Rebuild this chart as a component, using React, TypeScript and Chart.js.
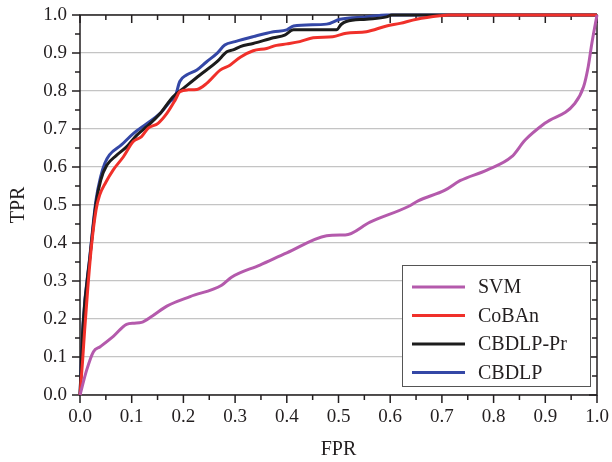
import React, { useEffect, useRef } from 'react';
import { Chart, registerables } from 'chart.js';

Chart.register(...registerables);

// ---- data ----
const seriesNames = ['SVM', 'CoBAn', 'CBDLP-Pr', 'CBDLP'];

const svmFpr = [0, 0.013, 0.026, 0.039, 0.065, 0.09, 0.105, 0.119, 0.14, 0.168, 0.213, 0.274, 0.293, 0.348, 0.4, 0.477, 0.503, 0.513, 0.561, 0.635, 0.654, 0.706, 0.735, 0.787, 0.835, 0.861, 0.899, 0.957, 0.974, 0.983, 0.99, 1.0];
const svmTpr = [0, 0.066, 0.114, 0.127, 0.155, 0.186, 0.189, 0.191, 0.208, 0.234, 0.259, 0.289, 0.31, 0.342, 0.374, 0.419, 0.421, 0.421, 0.455, 0.496, 0.511, 0.539, 0.564, 0.592, 0.627, 0.671, 0.715, 0.767, 0.811, 0.864, 0.925, 1.0];

const cobanFpr = [0, 0.005, 0.009, 0.015, 0.022, 0.031, 0.038, 0.05, 0.064, 0.084, 0.103, 0.119, 0.132, 0.151, 0.168, 0.184, 0.193, 0.209, 0.226, 0.245, 0.271, 0.29, 0.31, 0.335, 0.361, 0.38, 0.4, 0.425, 0.451, 0.489, 0.515, 0.554, 0.593, 0.619, 0.651, 0.696, 0.715, 1.0];
const cobanTpr = [0, 0.09, 0.171, 0.28, 0.39, 0.487, 0.526, 0.56, 0.592, 0.627, 0.667, 0.68, 0.702, 0.715, 0.741, 0.776, 0.798, 0.803, 0.804, 0.82, 0.855, 0.868, 0.889, 0.906, 0.912, 0.92, 0.924, 0.93, 0.94, 0.943, 0.952, 0.956, 0.971, 0.978, 0.989, 0.998, 1.0, 1.0];

const prFpr = [0, 0.006, 0.019, 0.031, 0.04, 0.052, 0.07, 0.09, 0.11, 0.129, 0.155, 0.18, 0.2, 0.232, 0.265, 0.284, 0.296, 0.31, 0.335, 0.374, 0.396, 0.413, 0.496, 0.505, 0.515, 0.554, 0.593, 0.603, 1.0];
const prTpr = [0, 0.185, 0.36, 0.505, 0.565, 0.605, 0.63, 0.653, 0.684, 0.706, 0.741, 0.785, 0.807, 0.842, 0.877, 0.903, 0.908, 0.917, 0.925, 0.94, 0.947, 0.961, 0.961, 0.975, 0.983, 0.989, 0.995, 1.0, 1.0];

const cbdlpFpr = [0, 0.006, 0.019, 0.031, 0.04, 0.048, 0.057, 0.08, 0.103, 0.129, 0.155, 0.174, 0.184, 0.193, 0.206, 0.226, 0.245, 0.265, 0.28, 0.3, 0.335, 0.374, 0.4, 0.413, 0.477, 0.503, 0.554, 0.593, 1.0];
const cbdlpTpr = [0, 0.189, 0.364, 0.513, 0.575, 0.61, 0.632, 0.658, 0.688, 0.714, 0.741, 0.772, 0.785, 0.825, 0.842, 0.855, 0.877, 0.899, 0.921, 0.93, 0.943, 0.956, 0.961, 0.971, 0.976, 0.989, 0.995, 1.0, 1.0];

const seriesColors = ['#b45aac', '#f0302a', '#1c1c1c', '#3447a6'];

const SERIF = '"Liberation Serif", "Times New Roman", serif';
const TEXT = '#231f20';

const toPoints = (xs: number[], ys: number[]) => xs.map((x, i) => ({ x, y: ys[i] }));

const frameTicks = {
  id: 'frameTicks',
  beforeDatasetsDraw(chart: any) {
    const { ctx, chartArea } = chart;
    const { left, right, top, bottom } = chartArea;
    const xs = chart.scales.x;
    const ys = chart.scales.y;
    ctx.save();
    ctx.strokeStyle = TEXT;
    ctx.lineWidth = 1.5;
    ctx.strokeRect(left, top, right - left, bottom - top);
    ctx.beginPath();
    for (let i = 0; i <= 20; i++) {
      const v = i / 20;
      const len = i % 2 === 0 ? 8 : 5;
      const px = xs.getPixelForValue(v);
      const py = ys.getPixelForValue(v);
      ctx.moveTo(px, bottom);
      ctx.lineTo(px, bottom + len);
      ctx.moveTo(px, top);
      ctx.lineTo(px, top + len);
      ctx.moveTo(left - len, py);
      ctx.lineTo(left, py);
      ctx.moveTo(right - len, py);
      ctx.lineTo(right, py);
    }
    ctx.stroke();
    ctx.restore();
  },
};

const boxLegend = {
  id: 'boxLegend',
  afterDatasetsDraw(chart: any) {
    const { ctx, chartArea } = chart;
    const bx = chartArea.right - 195;
    const by = chartArea.bottom - 130;
    const bw = 188;
    const bh = 121;
    ctx.save();
    ctx.fillStyle = '#ffffff';
    ctx.fillRect(bx, by, bw, bh);
    ctx.strokeStyle = '#555555';
    ctx.lineWidth = 1;
    ctx.strokeRect(bx + 0.5, by + 0.5, bw, bh);
    ctx.font = `20px ${SERIF}`;
    ctx.textBaseline = 'middle';
    ctx.textAlign = 'left';
    chart.data.datasets.forEach((ds: any, i: number) => {
      const y = by + 22 + i * 28.5;
      ctx.strokeStyle = ds.borderColor;
      ctx.lineWidth = 3;
      ctx.beginPath();
      ctx.moveTo(bx + 10, y);
      ctx.lineTo(bx + 63, y);
      ctx.stroke();
      ctx.fillStyle = TEXT;
      ctx.fillText(ds.label, bx + 76, y + 1);
    });
    ctx.restore();
  },
};

export default function App() {
  const canvasRef = useRef<HTMLCanvasElement | null>(null);

  useEffect(() => {
    document.body.style.margin = '0';
    const canvas = canvasRef.current;
    if (!canvas) return;
    const dataSets = [
      toPoints(svmFpr, svmTpr),
      toPoints(cobanFpr, cobanTpr),
      toPoints(prFpr, prTpr),
      toPoints(cbdlpFpr, cbdlpTpr),
    ];
    const chart = new Chart(canvas, {
      type: 'line',
      data: {
        datasets: dataSets.map((d, i) => ({
          label: seriesNames[i],
          data: d,
          borderColor: seriesColors[i],
          backgroundColor: seriesColors[i],
          borderWidth: 3,
          pointRadius: 0,
          cubicInterpolationMode: 'monotone',
          fill: false,
          clip: 4,
        })),
      },
      options: {
        animation: false,
        responsive: false,
        layout: { padding: { top: 15, right: 15, left: 0, bottom: 0 } },
        plugins: {
          legend: { display: false },
          tooltip: { enabled: false },
        },
        scales: {
          x: {
            type: 'linear',
            min: 0,
            max: 1,
            border: { display: false },
            grid: { display: false, drawTicks: false },
            ticks: {
              stepSize: 0.1,
              padding: 11,
              color: TEXT,
              font: { family: SERIF, size: 19 },
              callback: (v: any) => Number(v).toFixed(1),
              maxRotation: 0,
            },
            title: {
              display: true,
              text: 'FPR',
              color: TEXT,
              font: { family: SERIF, size: 20 },
              padding: { top: 0, bottom: 0 },
            },
            afterFit: (s: any) => {
              s.height = 67;
              s.paddingLeft = 0;
              s.paddingRight = 0;
            },
          },
          y: {
            type: 'linear',
            min: 0,
            max: 1,
            border: { display: false },
            grid: { color: '#c4c4c4', lineWidth: 1.3, drawTicks: false },
            ticks: {
              stepSize: 0.1,
              padding: 13,
              color: TEXT,
              font: { family: SERIF, size: 19 },
              callback: (v: any) => Number(v).toFixed(1),
            },
            title: {
              display: true,
              text: 'TPR',
              color: TEXT,
              font: { family: SERIF, size: 20 },
              padding: { top: 7, bottom: 0 },
            },
            afterFit: (s: any) => {
              s.width = 80;
              s.paddingTop = 0;
              s.paddingBottom = 0;
            },
          },
        },
      },
      plugins: [frameTicks, boxLegend],
    });
    return () => chart.destroy();
  }, []);

  return (
    <div style={{ width: 612, height: 462 }}>
      <canvas ref={canvasRef} width={612} height={462} style={{ display: 'block' }} />
    </div>
  );
}
